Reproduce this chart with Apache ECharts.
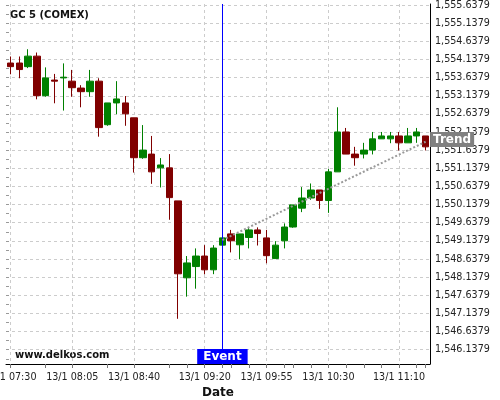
<!DOCTYPE html>
<html><head><meta charset="utf-8">
<script src="https://cdn.jsdelivr.net/npm/echarts@6/dist/echarts.min.js"></script>
<style>html,body{margin:0;padding:0;background:#fff}#c{width:500px;height:400px}</style>
</head><body><div id="c"></div>
<script>
const categories = [
  '13/1 07:30','13/1 07:35','13/1 07:40','13/1 07:45','13/1 07:50','13/1 07:55','13/1 08:00','13/1 08:05',
  '13/1 08:10','13/1 08:15','13/1 08:20','13/1 08:25','13/1 08:30','13/1 08:35','13/1 08:40','13/1 08:45',
  '13/1 08:50','13/1 08:55','13/1 09:00','13/1 09:05','13/1 09:10','13/1 09:15','13/1 09:20','13/1 09:25',
  '13/1 09:30','13/1 09:35','13/1 09:40','13/1 09:45','13/1 09:50','13/1 09:55','13/1 10:00','13/1 10:05',
  '13/1 10:10','13/1 10:15','13/1 10:20','13/1 10:25','13/1 10:30','13/1 10:35','13/1 10:40','13/1 10:45',
  '13/1 10:50','13/1 10:55','13/1 11:00','13/1 11:05','13/1 11:10','13/1 11:15','13/1 11:20','13/1 11:25'
];
const openValues = [
  1554.04,1554.04,1553.94,1554.23,1553.14,1553.57,1553.63,1553.54,
  1553.35,1553.25,1553.54,1552.34,1552.94,1552.94,1552.53,1551.43,
  1551.53,1551.15,1551.15,1550.24,1548.12,1548.43,1548.72,1548.34,
  1549.02,1549.33,1549.03,1549.23,1549.44,1549.22,1548.65,1549.14,
  1549.52,1550.04,1550.32,1550.54,1550.25,1551.04,1552.14,1551.53,
  1551.53,1551.64,1551.95,1551.95,1552.03,1551.84,1552.03,1552.03
];
const closeValues = [
  1553.94,1553.86,1554.23,1553.14,1553.63,1553.54,1553.65,1553.36,
  1553.25,1553.54,1552.26,1552.94,1553.05,1552.64,1551.43,1551.64,
  1551.04,1551.23,1550.33,1548.23,1548.53,1548.72,1548.34,1548.94,
  1549.22,1549.14,1549.33,1549.44,1549.34,1548.73,1549.02,1549.52,
  1550.13,1550.32,1550.54,1550.25,1551.04,1552.14,1551.53,1551.43,
  1551.64,1551.95,1552.03,1552.03,1551.84,1552.03,1552.14,1551.73
];
const lowValues = [
  1553.73,1553.62,1553.90,1553.04,1553.11,1552.93,1552.73,1553.11,
  1552.82,1553.11,1552.01,1552.31,1552.63,1552.31,1551.02,1551.40,
  1550.71,1550.61,1549.72,1546.99,1547.60,1547.82,1548.22,1548.22,
  1549.02,1548.82,1548.63,1548.93,1549.01,1548.52,1548.65,1548.93,
  1549.50,1549.93,1550.27,1550.02,1549.91,1551.04,1551.53,1551.21,
  1551.41,1551.52,1551.95,1551.83,1551.63,1551.84,1551.84,1551.63
];
const highValues = [
  1554.22,1554.22,1554.42,1554.33,1553.92,1553.74,1554.03,1553.85,
  1553.43,1553.85,1553.62,1552.94,1553.54,1553.13,1552.53,1552.33,
  1552.03,1551.42,1551.53,1550.24,1548.72,1548.93,1549.02,1549.02,
  1549.22,1549.44,1549.33,1549.51,1549.51,1549.44,1549.13,1549.62,
  1550.13,1550.62,1550.72,1550.54,1551.12,1552.82,1552.25,1551.73,
  1551.84,1552.14,1552.14,1552.14,1552.14,1552.25,1552.25,1552.03
];
const xLabelIndices = [0, 7, 14, 22, 29, 36, 44];
const xMinorTickIndices = [4, 11, 18, 20, 24, 25, 27, 31, 32, 34, 38, 40, 42, 46, 47];
const yTickValues = [
  1546.1379,1546.6379,1547.1379,1547.6379,1548.1379,1548.6379,1549.1379,1549.6379,1550.1379,1550.6379,
  1551.1379,1551.6379,1552.1379,1552.6379,1553.1379,1553.6379,1554.1379,1554.6379,1555.1379,1555.6379
];
const yMin = 1545.744, yMax = 1555.667;
const eventCategory = '13/1 09:30';
const trendStart = ['13/1 09:30', 1549.16];
const trendEnd = ['13/1 11:25', 1551.87];
const titleText = 'GC 5 (COMEX)';
const watermarkText = 'www.delkos.com';

const yMinorTickValues = yTickValues.map(v => +(v - 0.25).toFixed(4)).concat(yTickValues);
const FONT = 'DejaVu Sans';
function fmtY(v) {
  const s = (+v).toFixed(4);
  const parts = s.split('.');
  return parts[0].replace(/\B(?=(\d{3})+(?!\d))/g, ',') + '.' + parts[1];
}
const dashed = { type: [3, 3], color: '#cccccc', width: 1 };

const chart = echarts.init(document.getElementById('c'), null, { renderer: 'canvas' });
chart.setOption({
  animation: false,
  backgroundColor: '#ffffff',
  textStyle: { fontFamily: FONT },
  title: {
    text: titleText, left: 10, top: 10, padding: 0,
    textStyle: { fontSize: 10, fontWeight: 'bold', color: '#111', fontFamily: FONT }
  },
  graphic: [{
    type: 'text', left: 15, top: 350,
    style: { text: watermarkText, font: 'bold 10px "DejaVu Sans"', fill: '#111' }
  }],
  grid: [
    { left: 6, right: 70, top: 4, bottom: 36, outerBoundsMode: 'none', containLabel: false },
    { left: 6, right: 70, top: 4, bottom: 36, outerBoundsMode: 'none', containLabel: false }
  ],
  xAxis: [{
    type: 'category', gridIndex: 0, data: categories, boundaryGap: true,
    name: 'Date', nameLocation: 'middle', nameGap: 20,
    nameTextStyle: { fontSize: 12, fontWeight: 'bold', color: '#111', fontFamily: FONT },
    axisLine: { show: true, lineStyle: { color: '#000', width: 1 } },
    axisTick: {
      show: true, alignWithLabel: true, length: 4,
      interval: (i) => xLabelIndices.includes(i) || xMinorTickIndices.includes(i),
      lineStyle: { color: '#777' }
    },
    axisLabel: {
      interval: (i) => xLabelIndices.includes(i),
      fontSize: 9.6, color: '#222', margin: 8, fontFamily: FONT
    },
    splitLine: {
      show: true, alignWithLabel: true,
      interval: (i) => xLabelIndices.includes(i),
      lineStyle: dashed
    }
  }, {
    type: 'value', gridIndex: 1, show: false, min: 0, max: 1
  }],
  yAxis: [{
    type: 'value', gridIndex: 0, position: 'right', min: yMin, max: yMax, scale: true,
    axisLine: { show: true, lineStyle: { color: '#000', width: 1 } },
    axisTick: { show: false, customValues: yTickValues },
    axisLabel: {
      customValues: yTickValues, formatter: fmtY,
      fontSize: 9.6, color: '#222', margin: 5, fontFamily: FONT
    },
    splitLine: { show: true, lineStyle: dashed }
  }, {
    type: 'value', gridIndex: 1, position: 'right', min: yMin, max: yMax, scale: true,
    axisLine: { show: false },
    axisTick: { show: true, customValues: yMinorTickValues, length: 3, lineStyle: { color: '#999' } },
    axisLabel: { show: false },
    splitLine: { show: false }
  }],
  series: [{
    type: 'candlestick', xAxisIndex: 0, yAxisIndex: 0,
    data: categories.map((c, i) => [openValues[i], closeValues[i], lowValues[i], highValues[i]]),
    barWidth: 7,
    itemStyle: {
      color: '#008000', color0: '#800000',
      borderColor: '#008000', borderColor0: '#800000', borderWidth: 1
    },
    markLine: {
      silent: true, symbol: ['none', 'none'], animation: false,
      data: [
        {
          xAxis: eventCategory,
          lineStyle: { color: '#0000ff', width: 1, type: 'solid' },
          label: {
            show: true, position: 'start', formatter: 'Event', distance: [0, -15],
            backgroundColor: '#0000ff', color: '#fff', fontWeight: 'bold', fontSize: 12,
            fontFamily: FONT, padding: [1, 6, 1, 6], lineHeight: 13
          }
        },
        [{
          coord: trendStart,
          lineStyle: { color: '#999999', width: 2, type: [2, 2] },
          label: {
            show: true, position: 'end', formatter: 'Trend', distance: 5,
            backgroundColor: '#808080', color: '#fff', fontWeight: 'bold', fontSize: 12,
            fontFamily: FONT, padding: [1, 3, 1, 3], lineHeight: 13
          }
        }, { coord: trendEnd }]
      ]
    }
  }]
});
</script></body></html>
